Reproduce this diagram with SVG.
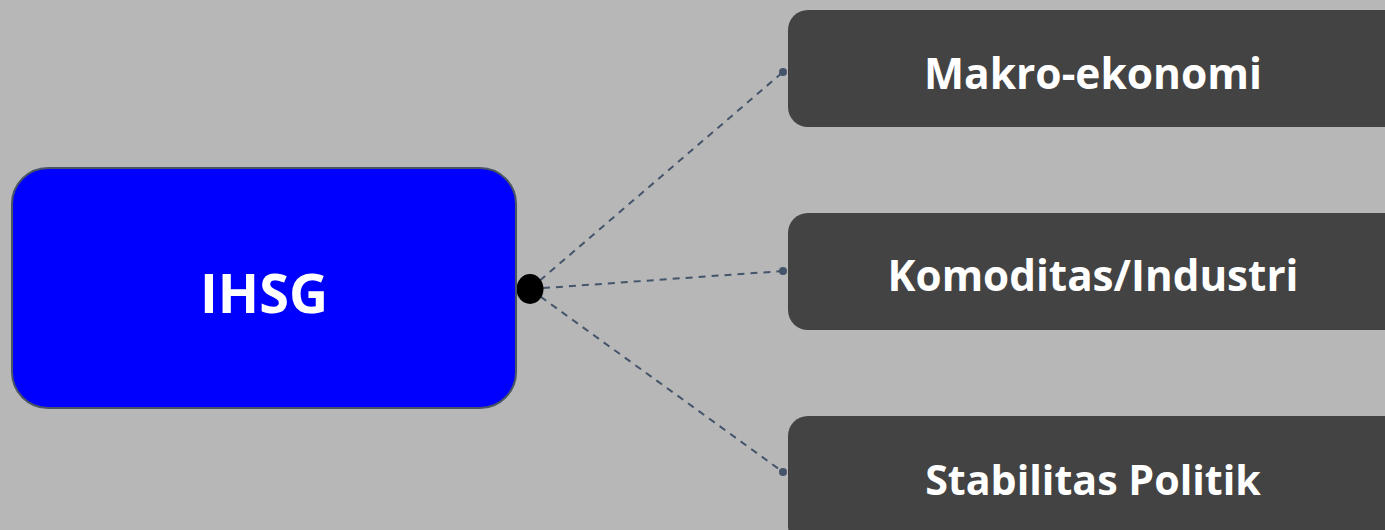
<svg xmlns="http://www.w3.org/2000/svg" width="1385" height="530" viewBox="0 0 1385 530">
<style>
.bg{fill:#b7b7b7}
.dark{fill:#434343}
.lbl{font-family:"Open Sans","Liberation Sans",sans-serif;font-weight:bold;fill:#ffffff;text-anchor:middle}
.conn{stroke:#44546a;stroke-width:2;stroke-dasharray:7,6;fill:none}
.dot{fill:#44546a}
</style>
<rect class="bg" x="0" y="0" width="1385" height="530"/>
<g id="connectors">
<line class="conn" x1="508" y1="302" x2="530" y2="289"/>
<line class="conn" x1="530" y1="289" x2="783" y2="72"/>
<line class="conn" x1="530" y1="289" x2="783" y2="271"/>
<line class="conn" x1="530" y1="289" x2="783" y2="472"/>
<circle class="dot" cx="783" cy="72" r="4"/>
<circle class="dot" cx="783" cy="271" r="4"/>
<circle class="dot" cx="783" cy="472" r="4"/>
<ellipse cx="530" cy="289" rx="13.5" ry="15" fill="#000"/>
</g>
<g id="ihsg">
<rect x="12" y="168" width="504" height="240" rx="36" ry="36" fill="#0000ff" stroke="#4a5563" stroke-width="2"/>
<text class="lbl" x="264" y="313" font-size="54">IHSG</text>
</g>
<g id="makro">
<rect class="dark" x="788" y="10" width="620" height="117" rx="20" ry="20"/>
<text class="lbl" x="1093" y="89" font-size="42.5">Makro-ekonomi</text>
</g>
<g id="komoditas">
<rect class="dark" x="788" y="213" width="620" height="117" rx="20" ry="20"/>
<text class="lbl" x="1093" y="291" font-size="42.2">Komoditas/Industri</text>
</g>
<g id="stabilitas">
<rect class="dark" x="788" y="416" width="620" height="130" rx="20" ry="20"/>
<text class="lbl" x="1093" y="495" font-size="41.2">Stabilitas Politik</text>
</g>
</svg>
